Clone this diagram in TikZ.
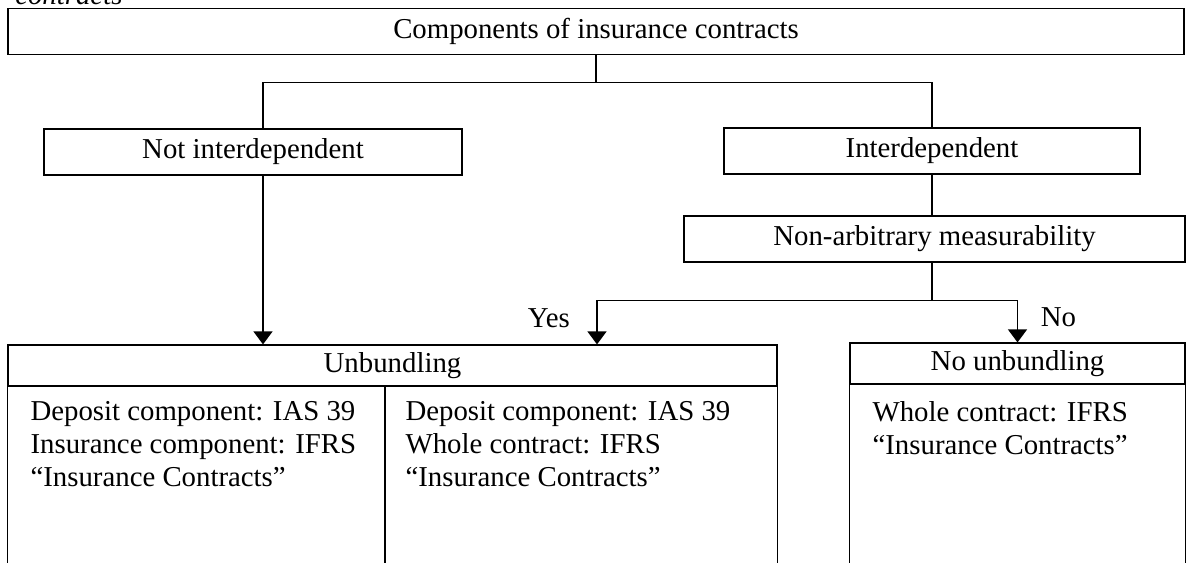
\documentclass[tikz,border=0pt]{standalone}
\usepackage{fontspec}
\setmainfont{Liberation Serif}
\usetikzlibrary{arrows.meta}
\begin{document}
\begin{tikzpicture}[x=0.5pt, y=-0.5pt, line width=0.6pt,
    font=\fontsize{14.4}{16.5}\selectfont,
    box/.style={draw, minimum height=23pt, inner sep=0pt},
    head/.style={draw, minimum height=20.5pt, inner sep=0pt},
    body/.style={anchor=north west, align=left, inner sep=0pt},
    arr/.style={-{Triangle[width=9.5pt,length=6.5pt]}}]
  \useasboundingbox (0,0) rectangle (1186,563);
  \coordinate (floor) at (0,563);
  \node[anchor=base west, font=\fontsize{14.4}{16.5}\selectfont\itshape] (cut) at (8,4) {contracts};
  \node[box, minimum width=588pt] (comp) at (596,31.5) {Components of insurance contracts};
  \node[box, minimum width=209pt] (notint) at (253,152) {Not interdependent};
  \node[box, minimum width=208pt] (interdep) at (932,151) {Interdependent};
  \node[box, minimum width=250.5pt] (nonarb) at (934.5,239) {Non-arbitrary measurability};
  \node[head, minimum width=384.5pt] (unb) at (392.5,365.5) {Unbundling};
  \node[head, minimum width=167.5pt] (nounb) at (1017.5,363.5) {No unbundling};
  \draw (unb.south west) -- (unb.south west |- floor);
  \draw (unb.south east) -- (unb.south east |- floor);
  \draw ([xshift=-3.75pt]unb.south) -- ([xshift=-3.75pt]unb.south |- floor);
  \draw (nounb.south west) -- (nounb.south west |- floor);
  \draw (nounb.south east) -- (nounb.south east |- floor);
  \node[body] (left) at (30,401) {Deposit component: IAS 39\\Insurance component: IFRS\\“Insurance Contracts”};
  \node[body] (right) at (405,401) {Deposit component: IAS 39\\Whole contract: IFRS\\“Insurance Contracts”};
  \node[body] (whole) at (872,401) {Whole contract: IFRS\\“Insurance Contracts”};
  \draw (comp.south) -- ++(0,27) coordinate (fork);
  \draw (fork) -| ([xshift=5pt]notint.north);
  \draw (fork) -| (interdep.north);
  \draw[arr] ([xshift=5pt]notint.south) -- ([xshift=5pt]notint.south |- unb.north);
  \draw (interdep.south) -- (interdep.south |- nonarb.north);
  \draw (interdep.south |- nonarb.south) -- ++(0,38) coordinate (split);
  \draw[arr] (split) -| node[pos=0.7, left=10pt] {Yes} ([xshift=102.25pt]unb.north);
  \draw[arr] (split) -| node[pos=0.7, right=8pt] {No} (nounb.north);
\end{tikzpicture}
\end{document}
